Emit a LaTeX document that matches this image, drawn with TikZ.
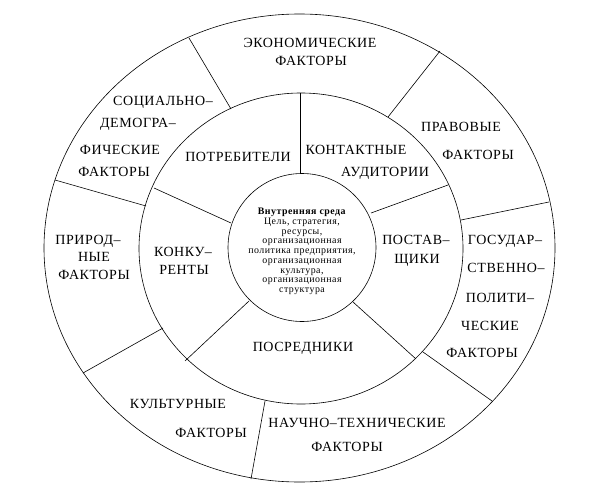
\documentclass[tikz,border=0pt]{standalone}
\usepackage{fontspec}
\setmainfont{Liberation Serif}
\newfontfamily\lblfont[LetterSpace=4]{Liberation Serif}
\newfontfamily\corefont[LetterSpace=5]{Liberation Serif}
\begin{document}
\begin{tikzpicture}[x=1pt,y=-1pt,
  lbl/.style={font=\lblfont\fontsize{14}{14}\selectfont, inner sep=0pt, text height=9.3pt, text depth=0pt},
  ring/.style={draw=black, line width=0.6pt},
  core/.style={font=\corefont\fontsize{9.9}{9.7}\selectfont, align=center, inner sep=0pt}]
\useasboundingbox (0,0) rectangle (591,497);
\fill[white] (0,0) rectangle (591,497);
% rings
\draw[ring] (299.5,248) ellipse [x radius=255.5pt, y radius=234pt];
\draw[ring] (301,248.5) ellipse [x radius=162pt, y radius=155.5pt];
\draw[ring] (302,247.5) circle [radius=74pt];
% inner ring dividers
\draw[ring] (300,93) -- (300,174);
\draw[ring] (371,213) -- (448,185);
\draw[ring] (353,302) -- (416,359);
\draw[ring] (249,301) -- (185,361);
\draw[ring] (154,188) -- (231,223);
% outer ring dividers
\draw[ring] (231,109) -- (189,38);
\draw[ring] (388,117) -- (440,51);
\draw[ring] (461,220) -- (549,202);
\draw[ring] (423,352) -- (492,401);
\draw[ring] (265,401) -- (251,479);
\draw[ring] (163,328) -- (83,373);
\draw[ring] (146,206) -- (55,180);
% core
\node[core] (core) at (302,251.5) {\textbf{Внутренняя среда}\\Цель, стратегия,\\ресурсы,\\организационная\\политика предприятия,\\организационная\\культура,\\организационная\\структура};
% inner ring labels
\node[lbl] (potr) at (238,157) {ПОТРЕБИТЕЛИ};
\node[lbl] (kont1) at (356,150) {КОНТАКТНЫЕ};
\node[lbl] (kont2) at (385,172) {АУДИТОРИИ};
\node[lbl] (post1) at (416,240) {ПОСТАВ–};
\node[lbl] (post2) at (417,259) {ЩИКИ};
\node[lbl] (posr) at (303,347) {ПОСРЕДНИКИ};
\node[lbl] (konk1) at (183,252) {КОНКУ–};
\node[lbl] (konk2) at (184,270) {РЕНТЫ};
% outer ring labels
\node[lbl] (econ1) at (310,43) {ЭКОНОМИЧЕСКИЕ};
\node[lbl] (econ2) at (311,61) {ФАКТОРЫ};
\node[lbl] (prav1) at (461,127) {ПРАВОВЫЕ};
\node[lbl] (prav2) at (478,155) {ФАКТОРЫ};
\node[lbl] (gos1) at (505,240) {ГОСУДАР–};
\node[lbl] (gos2) at (506,268) {СТВЕННО–};
\node[lbl] (gos3) at (500,298) {ПОЛИТИ–};
\node[lbl] (gos4) at (490,326) {ЧЕСКИЕ};
\node[lbl] (gos5) at (482,353) {ФАКТОРЫ};
\node[lbl] (nauch1) at (357,423) {НАУЧНО–ТЕХНИЧЕСКИЕ};
\node[lbl] (nauch2) at (347,447) {ФАКТОРЫ};
\node[lbl] (kult1) at (178,404) {КУЛЬТУРНЫЕ};
\node[lbl] (kult2) at (211,433) {ФАКТОРЫ};
\node[lbl] (prir1) at (88,240) {ПРИРОД–};
\node[lbl] (prir2) at (94,257) {НЫЕ};
\node[lbl] (prir3) at (94,275) {ФАКТОРЫ};
\node[lbl] (soc1) at (163,101) {СОЦИАЛЬНО–};
\node[lbl] (soc2) at (138,123) {ДЕМОГРА–};
\node[lbl] (soc3) at (120,150) {ФИЧЕСКИЕ};
\node[lbl] (soc4) at (114,172) {ФАКТОРЫ};
\end{tikzpicture}
\end{document}
